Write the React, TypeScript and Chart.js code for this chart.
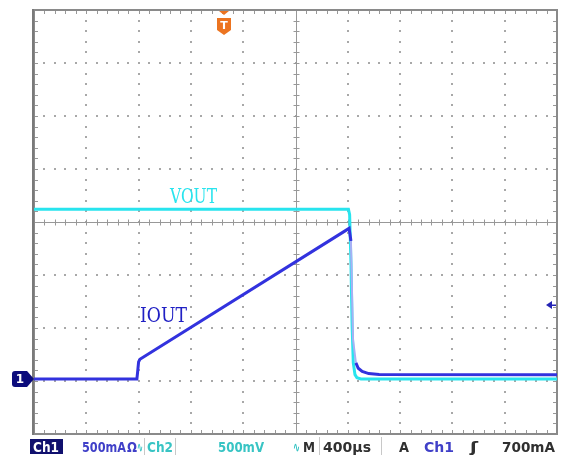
import React, { useEffect, useRef } from "react";
import { Chart, registerables } from "chart.js";

Chart.register(...registerables);

// ---- data (time in µs relative to screen centre) ----
const ch1TimeUs = [-2000, -1213, -1207, -1200, -1190, 410, 424, 440, 462, 480, 510, 560, 640, 2000];
const ch1CurrentMa = [0, 0, 70, 160, 185, 1420, 1300, 370, 150, 100, 70, 50, 42, 40];

const ch2TimeUs = [-2000, 405, 414, 424, 433, 442, 455, 470, 500, 2000];
const ch2VoltageMv = [1600, 1600, 1550, 1100, 500, 150, 40, 10, 0, 0];

const timePerDivUs = 400;
const ch1MaPerDiv = 500;
const ch2MvPerDiv = 500;
const groundDiv = -2.96;
const triggerLevelMa = 700;
const triggerTimeUs = -550;

const traceLabels = ["VOUT", "IOUT"];
const statusTexts = ["Ch1", "500mA", "Ω", "∿", "Ch2", "500mV", "∿", "M", "400µs", "A", "Ch1", "ʃ", "700mA"];
const statusColors = ["#ffffff", "#4040c8", "#4040c8", "#38c4c4", "#38c4c4", "#38c4c4", "#38c4c4", "#303030", "#303030", "#303030", "#4040c8", "#303030", "#303030"];
const statusLeft = [33, 82, 127, 137, 147, 218, 293, 303, 323, 399, 424, 470, 502];
const statusWidth = [26, 44, 10, 6, 26, 46, 7, 12, 48, 10, 30, 8, 53];

const BLUE = "#3232de";
const BLUE_FAST = "#a8b0f4";
const CYAN = "#28e4ee";

const scopeGrid = {
  id: "scopeGrid",
  beforeDatasetsDraw(chart: any) {
    const { ctx, chartArea: a, scales } = chart;
    const x = scales.x;
    const y = scales.y;
    ctx.save();
    // dotted grid
    ctx.fillStyle = "#a8a8a8";
    for (let i = -4; i <= 4; i++) {
      if (i === 0) continue;
      const px = Math.round(x.getPixelForValue(i * timePerDivUs));
      for (let j = -20; j <= 20; j++) {
        const py = Math.round(y.getPixelForValue(j / 5));
        ctx.fillRect(px - 1, py - 1, 2, 2);
      }
    }
    for (let k = -3; k <= 3; k++) {
      if (k === 0) continue;
      const py = Math.round(y.getPixelForValue(k));
      for (let m = -25; m <= 25; m++) {
        const px = Math.round(x.getPixelForValue((m * timePerDivUs) / 5));
        ctx.fillRect(px - 1, py - 1, 2, 2);
      }
    }
    // centre lines
    const x0 = Math.round(x.getPixelForValue(0)) + 0.5;
    const y0 = Math.round(y.getPixelForValue(0)) + 0.5;
    ctx.strokeStyle = "#989898";
    ctx.lineWidth = 1;
    ctx.beginPath();
    ctx.moveTo(a.left, y0);
    ctx.lineTo(a.right, y0);
    ctx.moveTo(x0, a.top);
    ctx.lineTo(x0, a.bottom);
    for (let m = -25; m <= 25; m++) {
      const px = Math.round(x.getPixelForValue((m * timePerDivUs) / 5)) + 0.5;
      ctx.moveTo(px, y0 - 3);
      ctx.lineTo(px, y0 + 3);
      ctx.moveTo(px, a.top);
      ctx.lineTo(px, a.top + 4);
      ctx.moveTo(px, a.bottom);
      ctx.lineTo(px, a.bottom - 4);
    }
    for (let j = -20; j <= 20; j++) {
      const py = Math.round(y.getPixelForValue(j / 5)) + 0.5;
      ctx.moveTo(x0 - 3, py);
      ctx.lineTo(x0 + 3, py);
      ctx.moveTo(a.left, py);
      ctx.lineTo(a.left + 4, py);
      ctx.moveTo(a.right, py);
      ctx.lineTo(a.right - 4, py);
    }
    ctx.stroke();
    // border
    ctx.strokeStyle = "#8a8a8a";
    ctx.lineWidth = 2;
    ctx.strokeRect(a.left, a.top, a.right - a.left, a.bottom - a.top);
    ctx.fillStyle = "#7a7a7a";
    ctx.fillRect(a.left - 2, a.top - 1, 2, a.bottom - a.top + 2);
    ctx.restore();
  },
  afterDraw(chart: any) {
    const { ctx, chartArea: a, scales } = chart;
    const x = scales.x;
    const y = scales.y;
    ctx.save();
    // channel 1 ground marker
    const gy = Math.round(y.getPixelForValue(groundDiv));
    ctx.fillStyle = "#0c0c7c";
    ctx.beginPath();
    ctx.moveTo(15, gy - 8);
    ctx.lineTo(27, gy - 8);
    ctx.lineTo(34, gy);
    ctx.lineTo(27, gy + 8);
    ctx.lineTo(15, gy + 8);
    ctx.quadraticCurveTo(12, gy + 8, 12, gy + 5);
    ctx.lineTo(12, gy - 5);
    ctx.quadraticCurveTo(12, gy - 8, 15, gy - 8);
    ctx.fill();
    ctx.fillStyle = "#ffffff";
    ctx.font = "bold 12px 'DejaVu Sans'";
    ctx.textAlign = "center";
    ctx.textBaseline = "middle";
    ctx.fillText("1", 20, gy + 1);

    // trigger level arrow
    const ty = Math.round(y.getPixelForValue(groundDiv + triggerLevelMa / ch1MaPerDiv));
    ctx.fillStyle = "#2424b4";
    ctx.beginPath();
    ctx.moveTo(a.right - 11, ty);
    ctx.lineTo(a.right - 5, ty - 4);
    ctx.lineTo(a.right - 5, ty + 4);
    ctx.closePath();
    ctx.fill();
    ctx.fillRect(a.right - 5, ty - 0.5, 4, 1.5);

    // trigger position marker
    const tx = Math.round(x.getPixelForValue(triggerTimeUs));
    ctx.fillStyle = "#ec7420";
    ctx.beginPath();
    ctx.moveTo(tx - 5, a.top + 1);
    ctx.lineTo(tx + 5, a.top + 1);
    ctx.lineTo(tx, a.top + 5);
    ctx.closePath();
    ctx.fill();
    ctx.beginPath();
    ctx.moveTo(tx - 7, 18);
    ctx.lineTo(tx + 7, 18);
    ctx.lineTo(tx + 7, 30);
    ctx.lineTo(tx, 35);
    ctx.lineTo(tx - 7, 30);
    ctx.closePath();
    ctx.fill();
    ctx.fillStyle = "#ffffff";
    ctx.font = "bold 11px 'DejaVu Sans'";
    ctx.fillText("T", tx, 26);

    // trace labels
    ctx.textAlign = "left";
    ctx.textBaseline = "alphabetic";
    ctx.font = "15px 'DejaVu Serif'";
    const drawStretched = (t: string, lx: number, ly: number, w: number, col: string) => {
      const mw = ctx.measureText(t).width;
      ctx.save();
      ctx.translate(lx, ly);
      ctx.scale(w / mw, 1.4);
      ctx.fillStyle = col;
      ctx.fillText(t, 0, 0);
      ctx.restore();
    };
    drawStretched(traceLabels[0], 170, 203, 47, CYAN);
    drawStretched(traceLabels[1], 140, 322, 47, "#2020c4");

    // status bar
    ctx.fillStyle = "#10106e";
    ctx.fillRect(30, 439, 33, 15);
    ctx.strokeStyle = "#c8c8c8";
    ctx.lineWidth = 1;
    ctx.beginPath();
    ctx.moveTo(144.5, 438);
    ctx.lineTo(144.5, 455);
    ctx.moveTo(175.5, 438);
    ctx.lineTo(175.5, 455);
    ctx.moveTo(319.5, 437);
    ctx.lineTo(319.5, 455);
    ctx.moveTo(381.5, 437);
    ctx.lineTo(381.5, 455);
    ctx.stroke();
    ctx.font = "bold 14px 'DejaVu Sans'";
    for (let i = 0; i < statusTexts.length; i++) {
      const mw = ctx.measureText(statusTexts[i]).width;
      ctx.save();
      ctx.translate(statusLeft[i], 452);
      ctx.scale(statusWidth[i] / mw, 1);
      ctx.fillStyle = statusColors[i];
      ctx.fillText(statusTexts[i], 0, 0);
      ctx.restore();
    }
    ctx.restore();
  },
};

export default function App() {
  const ref = useRef<HTMLCanvasElement | null>(null);
  useEffect(() => {
    document.body.style.margin = "0";
    const canvas = ref.current;
    if (!canvas) return;
    const ch1 = ch1TimeUs.map((t, i) => ({ x: t, y: groundDiv + ch1CurrentMa[i] / ch1MaPerDiv }));
    const ch2 = ch2TimeUs.map((t, i) => ({ x: t, y: groundDiv + ch2VoltageMv[i] / ch2MvPerDiv }));
    const chart = new Chart(canvas, {
      type: "line",
      data: {
        datasets: [
          {
            label: "IOUT",
            data: ch1,
            borderColor: BLUE,
            borderWidth: 3,
            pointRadius: 0,
            tension: 0,
            order: 0,
            segment: {
              borderColor: (c: any) => (c.p0.parsed.y - c.p1.parsed.y > 0.4 ? BLUE_FAST : undefined),
              borderWidth: (c: any) => (c.p0.parsed.y - c.p1.parsed.y > 0.4 ? 2 : undefined),
            },
          },
          {
            label: "VOUT",
            data: ch2,
            borderColor: CYAN,
            borderWidth: 3,
            pointRadius: 0,
            tension: 0,
            order: 1,
          },
        ],
      },
      options: {
        animation: false,
        responsive: false,
        events: [],
        layout: { padding: { left: 34, right: 8, top: 10, bottom: 21 } },
        plugins: { legend: { display: false }, tooltip: { enabled: false } },
        scales: {
          x: { type: "linear", min: -5 * timePerDivUs, max: 5 * timePerDivUs, display: false },
          y: { type: "linear", min: -4, max: 4, display: false },
        },
      },
      plugins: [scopeGrid],
    });
    return () => chart.destroy();
  }, []);
  return (
    <div style={{ position: "absolute", left: 0, top: 0, width: 565, height: 455, background: "#fff" }}>
      <canvas ref={ref} width={565} height={455} style={{ width: 565, height: 455, display: "block" }} />
    </div>
  );
}
